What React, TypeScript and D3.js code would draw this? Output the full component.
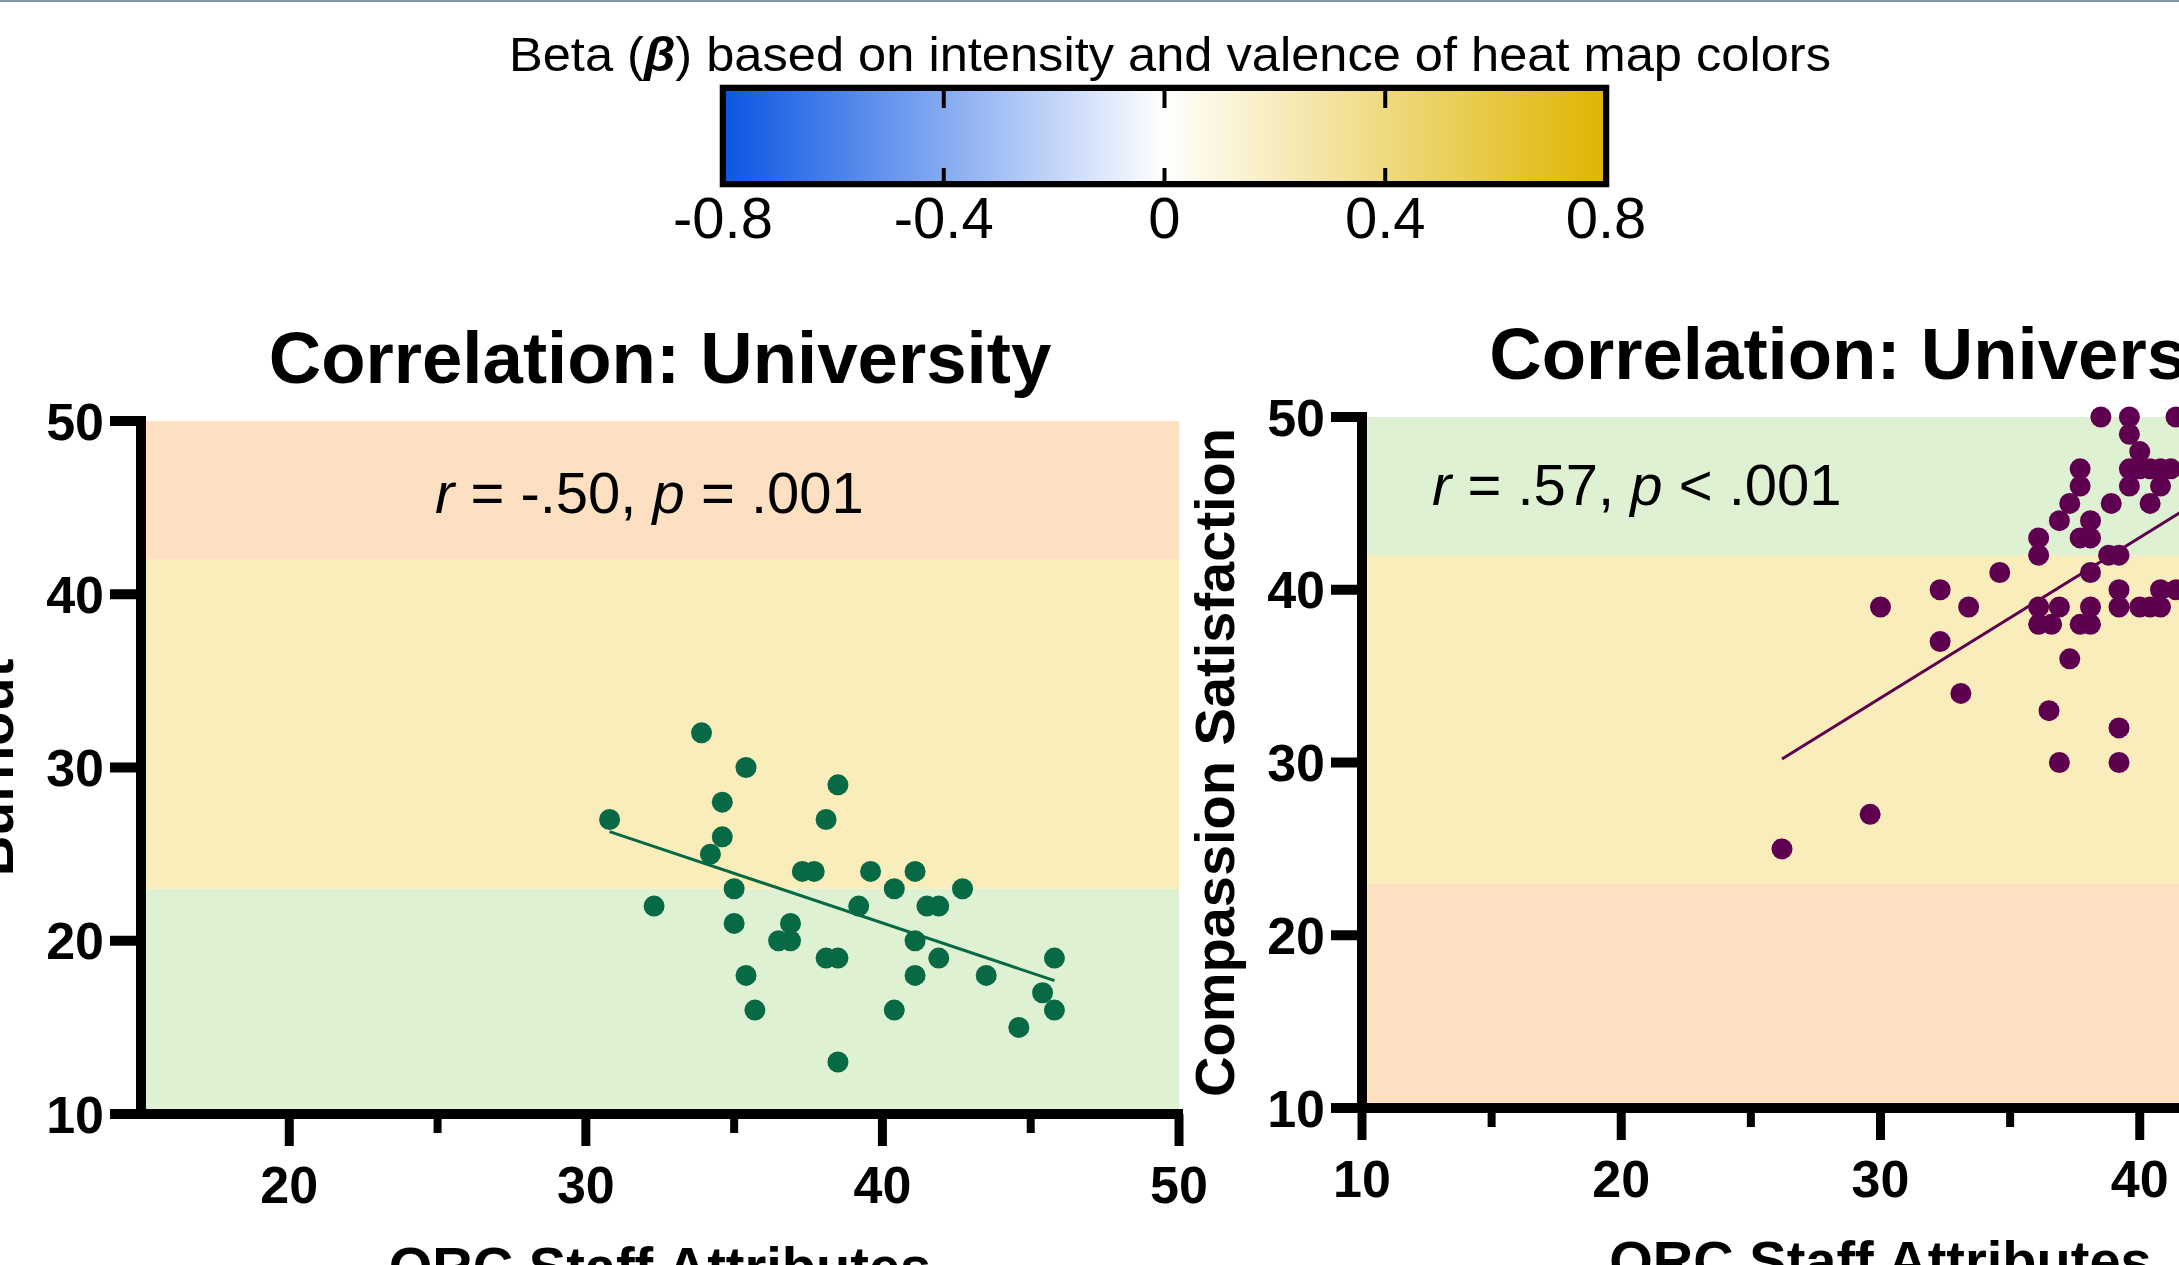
import React from 'react';
import * as d3 from 'd3';

// University sample: ORC staff attributes vs burnout
const burnoutX = [33.9, 35.4, 38.5, 30.8, 34.6, 38.1, 34.6, 34.2, 37.3, 37.7, 39.6, 41.1, 35.0, 40.4, 42.7, 32.3, 39.2, 41.5, 41.9, 35.0, 36.9, 36.5, 36.9, 41.1, 38.1, 38.5, 41.9, 45.8, 35.4, 41.1, 43.5, 45.4, 35.7, 40.4, 45.8, 44.6, 38.5];
const burnoutY = [32, 30, 29, 27, 28, 27, 26, 25, 24, 24, 24, 24, 23, 23, 23, 22, 22, 22, 22, 21, 21, 20, 20, 20, 19, 19, 19, 19, 18, 18, 18, 17, 16, 16, 16, 15, 13];
const burnoutFitX = [30.8, 45.8];
const burnoutFitY = [26.3, 17.7];

// University sample: ORC staff attributes vs compassion satisfaction
const compassionX = [38.5, 39.6, 41.4, 39.6, 40.0, 37.7, 39.6, 40.0, 40.4, 40.8, 41.2, 37.7, 39.6, 40.8, 37.3, 38.9, 40.4, 36.9, 38.1, 36.1, 37.7, 38.1, 36.1, 38.8, 39.2, 34.6, 38.1, 32.3, 39.2, 40.8, 41.4, 30.0, 33.4, 36.1, 36.9, 38.1, 39.2, 40.0, 40.4, 40.8, 36.1, 36.6, 37.7, 38.1, 32.3, 37.3, 33.1, 36.5, 39.2, 36.9, 39.2, 29.6, 26.2];
const compassionY = [50, 50, 50, 49, 48, 47, 47, 47, 47, 47, 47, 46, 46, 46, 45, 45, 45, 44, 44, 43, 43, 43, 42, 42, 42, 41, 41, 40, 40, 40, 40, 39, 39, 39, 39, 39, 39, 39, 39, 39, 38, 38, 38, 38, 37, 36, 34, 33, 32, 30, 30, 27, 25];
const compassionFitX = [26.2, 46.0];
const compassionFitY = [30.2, 48.6];

const yTicks = [10, 20, 30, 40, 50];
const bandEdges = [10, 23, 42, 50];
const legendTicks = [-0.8, -0.4, 0, 0.4, 0.8];

const GREEN_BAND = '#dff1d3';
const YELLOW_BAND = '#f9edbc';
const PEACH_BAND = '#fddfc1';
const FONT = '"Liberation Sans", Arial, Helvetica, sans-serif';

function Panel(props) {
    const { xs, ys, fitX, fitY, color, xDomain, xRange, yRange, majorX, minorX,
        bandColors, title, yLabel, annotation, annX, annY } = props;
    const x = d3.scaleLinear().domain(xDomain).range(xRange);
    const y = d3.scaleLinear().domain([10, 50]).range(yRange);
    const left = xRange[0];
    const right = xRange[1];
    const top = y(50);
    const bottom = y(10);
    const midX = (left + right) / 2;
    const midY = (top + bottom) / 2;
    const line = d3.line().x(d => x(d[0])).y(d => y(d[1]));

    return (
        <g fontFamily={FONT}>
            {bandColors.map((c, i) => (
                <rect key={'b' + i} x={left} y={y(bandEdges[i + 1])} width={right - left}
                    height={y(bandEdges[i]) - y(bandEdges[i + 1])} fill={c} />
            ))}
            <text x={midX} y={top - 38} textAnchor="middle" fontWeight="bold" fontSize={72.6}>{title}</text>
            <text x={annX} y={annY} fontSize={58}>
                <tspan fontStyle="italic">r</tspan>{' = ' + annotation[0] + ', '}
                <tspan fontStyle="italic">p</tspan>{' ' + annotation[1]}
            </text>
            <path d={line(d3.zip(fitX, fitY))} stroke={color} strokeWidth={3} fill="none" />
            {xs.map((v, i) => (
                <circle key={'p' + i} cx={x(v)} cy={y(ys[i])} r={10.5} fill={color} />
            ))}
            {/* axes */}
            <line x1={left} x2={left} y1={top - 5} y2={bottom} stroke="#000" strokeWidth={10} />
            <line x1={left - 31} x2={right + 4} y1={bottom} y2={bottom} stroke="#000" strokeWidth={10} />
            {yTicks.map(t => (
                <g key={'yt' + t}>
                    <line x1={left - 31} x2={left} y1={y(t)} y2={y(t)} stroke="#000" strokeWidth={10} />
                    <text x={left - 37} y={y(t)} dy="0.36em" textAnchor="end" fontWeight="bold" fontSize={52}>{t}</text>
                </g>
            ))}
            {majorX.map(t => (
                <g key={'xt' + t}>
                    <line x1={x(t)} x2={x(t)} y1={bottom} y2={bottom + 32} stroke="#000" strokeWidth={9} />
                    <text x={x(t)} y={bottom + 89} textAnchor="middle" fontWeight="bold" fontSize={52}>{t}</text>
                </g>
            ))}
            {minorX.map(t => (
                <line key={'mt' + t} x1={x(t)} x2={x(t)} y1={bottom} y2={bottom + 19} stroke="#000" strokeWidth={8} />
            ))}
            <text transform={`translate(${left - 128},${midY}) rotate(-90)`} textAnchor="middle"
                fontWeight="bold" fontSize={56}>{yLabel}</text>
            <text x={midX} y={bottom + 172} textAnchor="middle" fontWeight="bold" fontSize={56}>ORC Staff Attributes</text>
        </g>
    );
}

function Legend() {
    const x = d3.scaleLinear().domain([-0.8, 0.8]).range([723, 1606]);
    const top = 88;
    const bottom = 184;
    return (
        <g fontFamily={FONT}>
            <defs>
                <linearGradient id="betaGrad" x1="0" x2="1" y1="0" y2="0">
                    <stop offset="0" stopColor="#0a55e2" />
                    <stop offset="0.5" stopColor="#ffffff" />
                    <stop offset="1" stopColor="#dfb500" />
                </linearGradient>
            </defs>
            <text x={1170} y={71} textAnchor="middle" fontSize={49} textLength={1322} lengthAdjust="spacingAndGlyphs">
                Beta (<tspan fontWeight="bold" fontStyle="italic">β</tspan>) based on intensity and valence of heat map colors
            </text>
            <rect x={x(-0.8) - 2} y={top - 2} width={x(0.8) - x(-0.8) + 4} height={bottom - top + 4}
                fill="none" stroke="#7a7a7a" strokeWidth={3} />
            <rect x={x(-0.8)} y={top} width={x(0.8) - x(-0.8)} height={bottom - top}
                fill="url(#betaGrad)" stroke="#000" strokeWidth={6} />
            {legendTicks.slice(1, -1).map(t => (
                <g key={'lt' + t}>
                    <line x1={x(t)} x2={x(t)} y1={top} y2={top + 20} stroke="#000" strokeWidth={4} />
                    <line x1={x(t)} x2={x(t)} y1={bottom - 16} y2={bottom} stroke="#000" strokeWidth={4} />
                </g>
            ))}
            {legendTicks.map(t => (
                <text key={'ll' + t} x={x(t)} y={238} textAnchor="middle" fontSize={58}>{t === 0 ? '0' : String(t)}</text>
            ))}
        </g>
    );
}

export default function App() {
    return (
        <svg width={2179} height={1265} style={{ position: 'absolute', left: 0, top: 0, background: '#fff' }}>
            <rect x={0} y={0} width={2179} height={1265} fill="#fff" />
            <rect x={0} y={0} width={2179} height={2} fill="#8596b2" />
            <Legend />
            <Panel xs={burnoutX} ys={burnoutY} fitX={burnoutFitX} fitY={burnoutFitY} color="#076a45"
                xDomain={[15, 50]} xRange={[141, 1179]} yRange={[1114, 421]}
                majorX={[20, 30, 40, 50]} minorX={[25, 35, 45]}
                bandColors={[GREEN_BAND, YELLOW_BAND, PEACH_BAND]}
                title="Correlation: University" yLabel="Burnout"
                annotation={['-.50', '= .001']} annX={435} annY={513} />
            <Panel xs={compassionX} ys={compassionY} fitX={compassionFitX} fitY={compassionFitY} color="#5e004f"
                xDomain={[10, 50]} xRange={[1362, 2399]} yRange={[1108, 417]}
                majorX={[10, 20, 30, 40, 50]} minorX={[15, 25, 35, 45]}
                bandColors={[PEACH_BAND, YELLOW_BAND, GREEN_BAND]}
                title="Correlation: University" yLabel="Compassion Satisfaction"
                annotation={['.57', '< .001']} annX={1432} annY={505} />
        </svg>
    );
}
